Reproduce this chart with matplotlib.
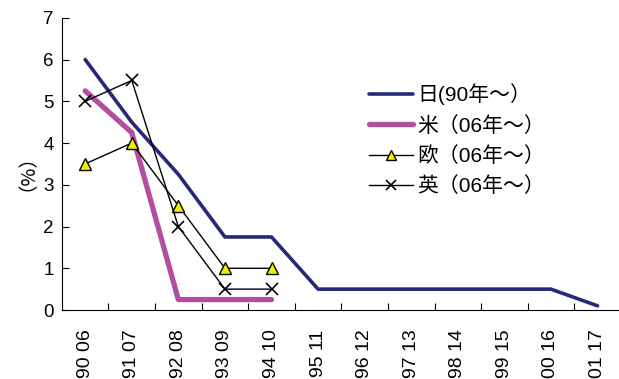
import matplotlib
matplotlib.use('Agg')
import matplotlib.pyplot as plt
import numpy as np

plt.rcParams['font.family'] = ['Liberation Sans', 'Noto Sans CJK JP', 'DejaVu Sans']

# 年（日本 / 欧米）
labels = ['90 06', '91 07', '92 08', '93 09', '94 10', '95 11',
          '96 12', '97 13', '98 14', '99 15', '00 16', '01 17']
japan = [6.0, 4.5, 3.25, 1.75, 1.75, 0.5, 0.5, 0.5, 0.5, 0.5, 0.5, 0.1]
usa = [5.25, 4.25, 0.25, 0.25, 0.25]
euro = [3.5, 4.0, 2.5, 1.0, 1.0]
uk = [5.0, 5.5, 2.0, 0.5, 0.5]

x = np.arange(len(labels)) + 0.5

fig = plt.figure(figsize=(6.19, 3.79), dpi=100)
ax = fig.add_axes([0.100, 0.182, 0.903, 0.771])

ax.plot(x, japan, color='#28287a', lw=2.6, label='日(90年～）', solid_capstyle='round')
ax.plot(x[:len(usa)], usa, color='#b04fa0', lw=3.8, label='米（06年～）', solid_capstyle='round')
ax.plot(x[:len(euro)], euro, color='black', lw=1.0, marker='^', ms=8,
        mfc='#f0f000', mec='black', mew=1.0, label='欧（06年～）')
ax.plot(x[:len(uk)], uk, color='black', lw=1.0, marker='x', ms=8,
        mew=1.2, label='英（06年～）')

ax.set_xlim(0, len(labels))
ax.set_ylim(0, 7)
ax.set_yticks(range(0, 8))
ax.set_xticks(np.arange(1, len(labels)))
ax.set_xticklabels([])
ax.set_xticks(x, minor=True)
ax.set_xticklabels(labels, minor=True, rotation=90, fontsize=14)
ax.tick_params(axis='x', which='minor', length=0, pad=14)
ax.tick_params(axis='x', which='major', direction='in', length=5)
ax.tick_params(axis='y', direction='in', length=5, labelsize=13.5, pad=6)

for s in ['top', 'right']:
    ax.spines[s].set_visible(False)

fig.text(0.027, 0.572, '（%）', rotation=90, ha='center', va='center',
         fontsize=14, family=['Noto Sans CJK JP'])

ax.legend(loc='upper left', bbox_to_anchor=(0.549, 0.775), frameon=False,
          prop={'family': ['Liberation Sans', 'Noto Sans CJK JP'], 'size': 15},
          handlelength=2.1, handletextpad=0.25, labelspacing=0.5,
          borderpad=0, borderaxespad=0, markerscale=0.85)

fig.savefig('out.png', dpi=100)
